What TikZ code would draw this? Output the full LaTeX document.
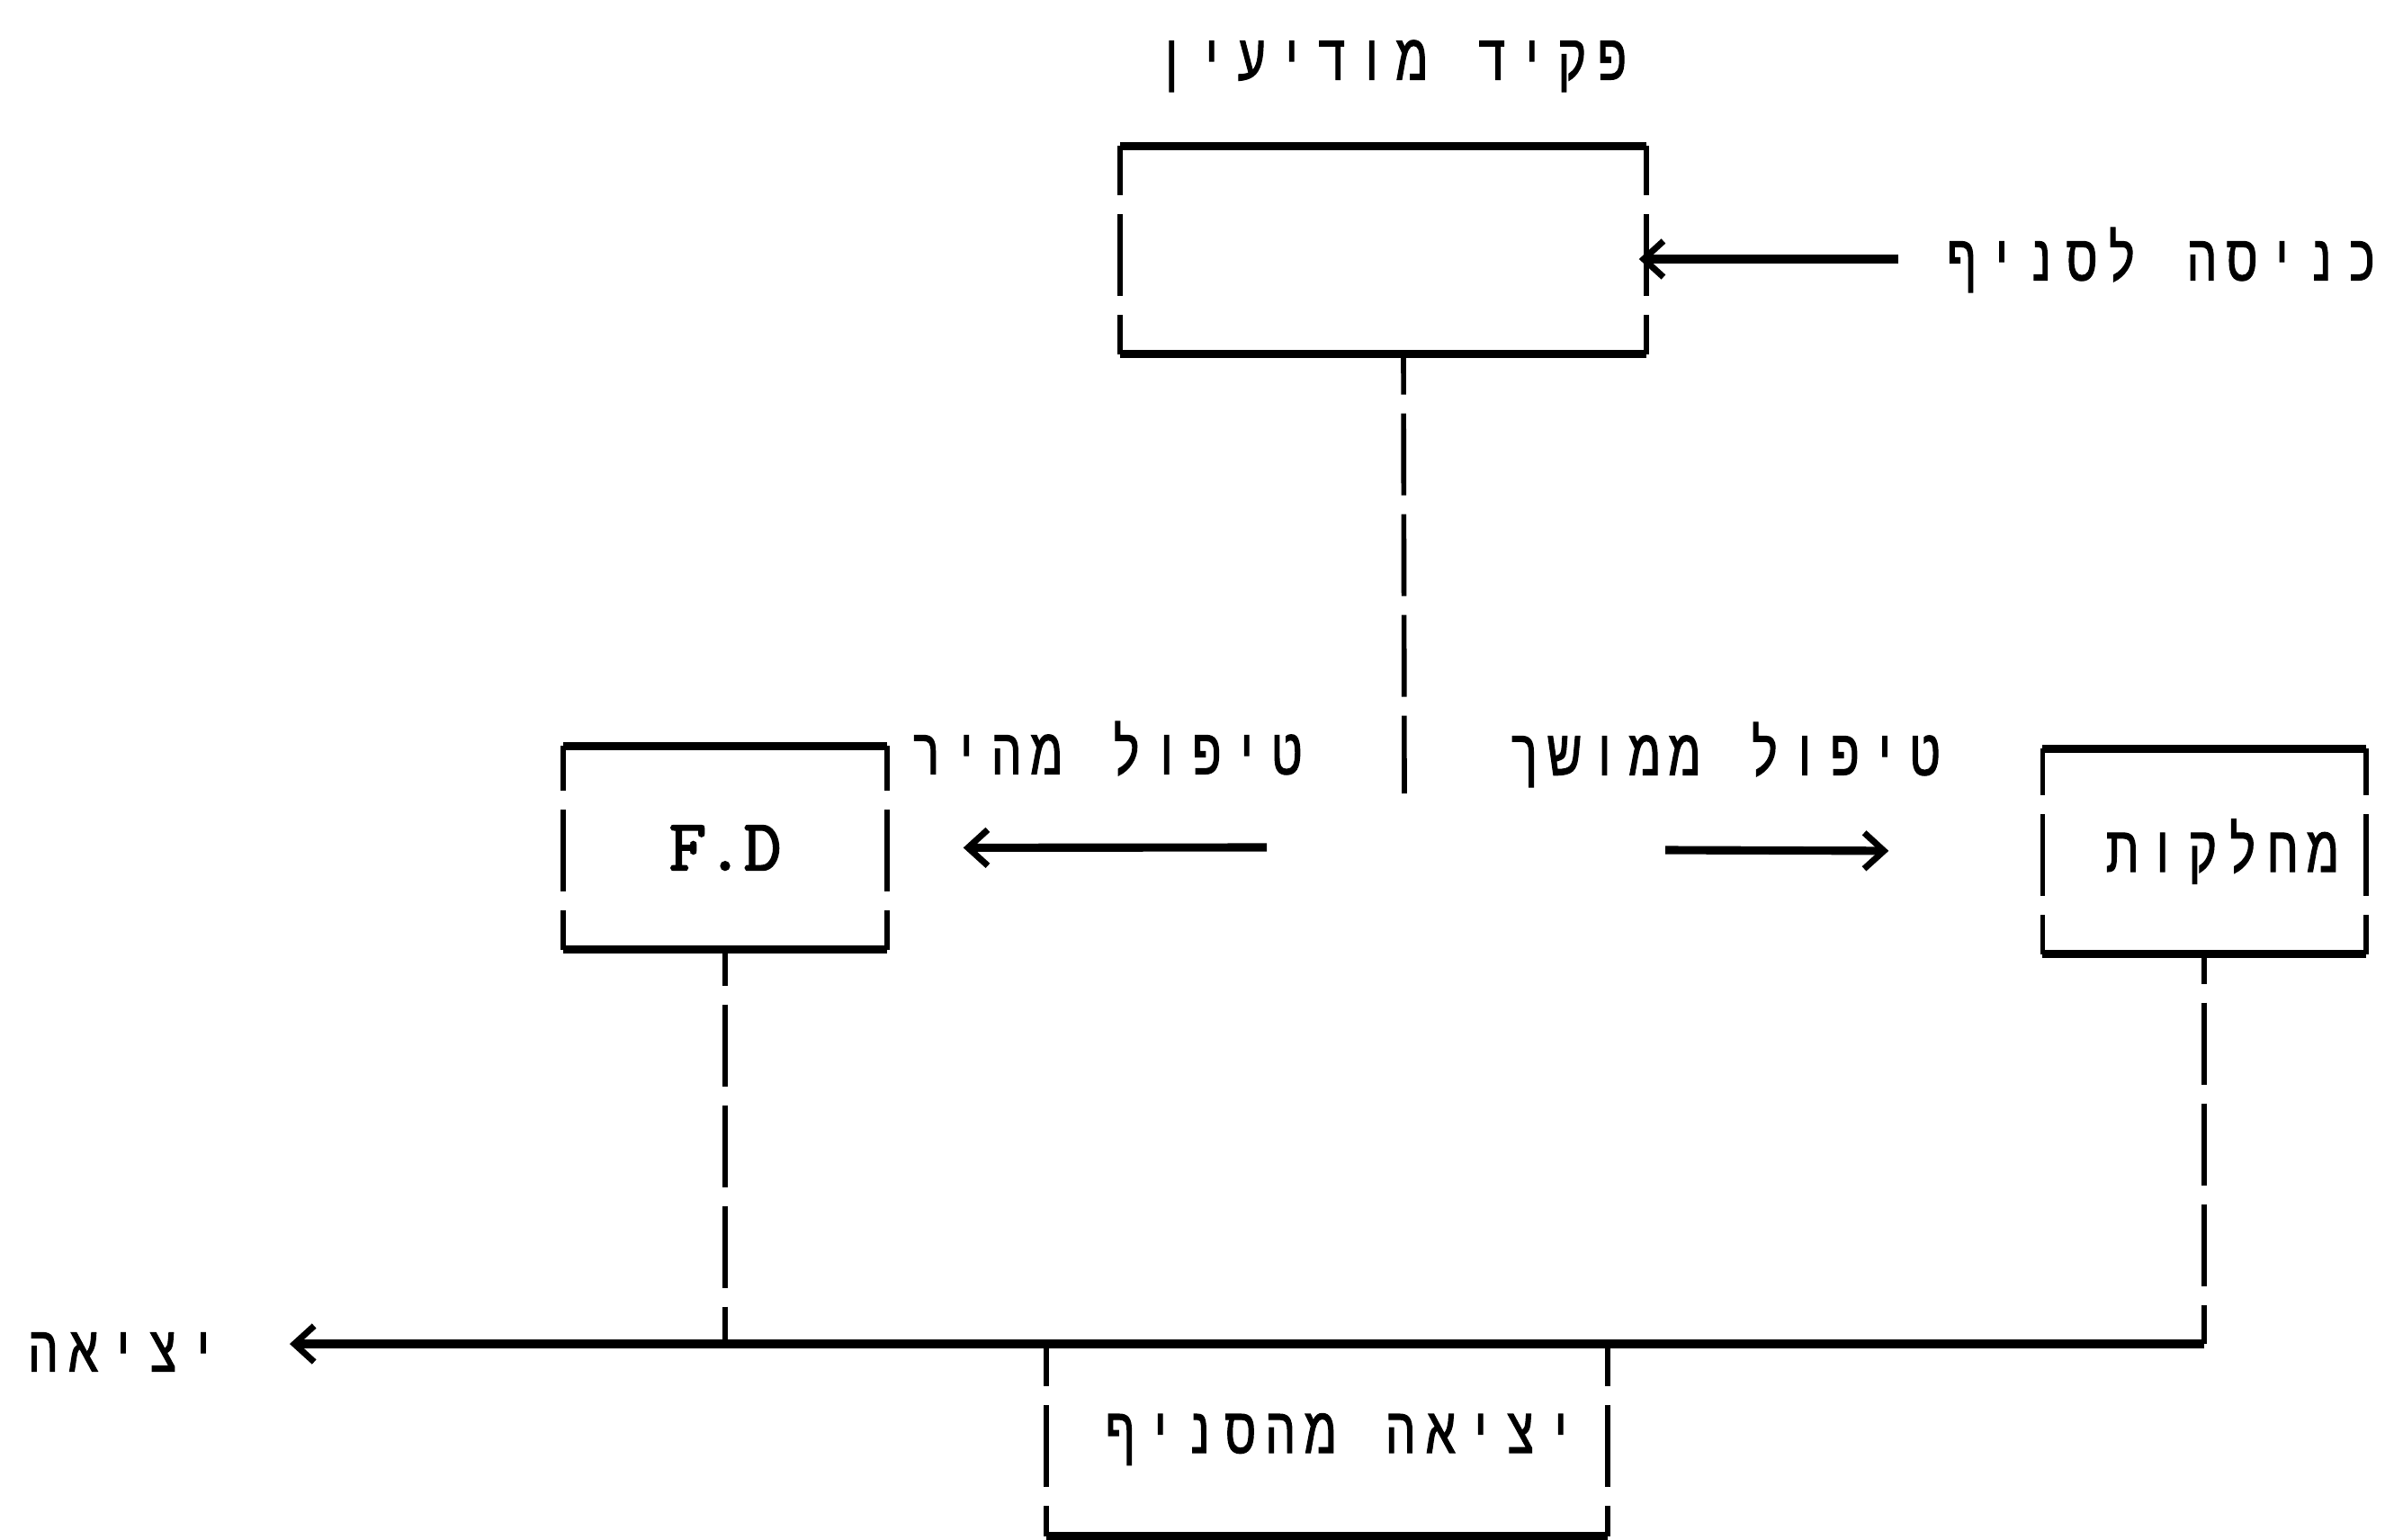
\documentclass[tikz,border=0pt]{standalone}
\usepackage{fontspec}
\usetikzlibrary{arrows.meta}
\TeXXeTstate=1
\newfontfamily\heb[Script=Hebrew,FakeStretch=0.74,FakeBold=1.5]{Liberation Sans}
\newfontfamily\fdfont[FakeBold=2.5]{Latin Modern Mono}
\newlength\twpitch \setlength\twpitch{0.445cm}
\makeatletter
\newcommand\tw[1]{\beginR\@tfor\tw@c:=#1\do{\hbox to \twpitch{\hss\tw@c\hss}}\endR}
\makeatother
\tikzset{
  hebfont/.style={font=\heb\fontsize{20.5pt}{22pt}\selectfont},
  hline/.style={line width=2.6pt},
  vdash/.style={line width=1.6pt, dash pattern=on 0.91cm off 0.21cm},
  arr/.style={hline, -{Straight Barb[length=0.22cm, width=0.4cm, line width=2pt, sep=0.06cm]}},
  lbl/.style={hebfont, inner sep=0pt, text height=0.47cm, text depth=0pt},
  boxn/.style={draw=none, inner sep=0pt}
}
\begin{document}
\begin{tikzpicture}
\useasboundingbox (0,0) rectangle (26.61,-17.11);
% title
\node[lbl] (title) at (15.47,-0.65) {\tw{פקיד~מודיעין}};
% top box
\node[boxn, minimum width=5.83cm, minimum height=2.30cm] (top) at (15.375,-2.78) {};
\draw[hline] (top.north west) -- (top.north east);
\draw[hline] (top.south west) -- (top.south east);
\draw[vdash, dash phase=0.36cm] (top.north west) -- (top.south west);
\draw[vdash, dash phase=0.36cm] (top.north east) -- (top.south east);
% entry
\node[lbl] (entry) at (24.03,-2.88) {\tw{כניסה~לסניף}};
\draw[arr, shorten >=0.34cm] ([xshift=-0.48cm]entry.west) -- ([xshift=-0.48cm]entry.west -| top.east);
% central connector
\coordinate (split) at (15.61,-8.82);
\draw[vdash, dash phase=0.46cm] ([xshift=0.225cm]top.south) -- (split);
% F.D box
\node[boxn, minimum width=3.58cm, minimum height=2.25cm, font=\fdfont\fontsize{23pt}{25pt}\selectfont] (fd) at (8.06,-9.425) {F.D};
\draw[hline] (fd.north west) -- (fd.north east);
\draw[hline] (fd.south west) -- (fd.south east);
\draw[vdash, dash phase=0.41cm] (fd.north west) -- (fd.south west);
\draw[vdash, dash phase=0.41cm] (fd.north east) -- (fd.south east);
% fast
\node[lbl] (fast) at (12.30,-8.37) {\tw{טיפול~מהיר}};
\coordinate (fdStart) at (14.08,-9.42);
\draw[arr, shorten >=0.79cm] (fdStart) -- (fd.east);
% dept box
\node[boxn, hebfont, minimum width=3.58cm, minimum height=2.27cm, text width=3.08cm, align=right, inner xsep=0.25cm] (dept) at (24.50,-9.465) {\tw{מחלקות}};
\draw[hline] (dept.north west) -- (dept.north east);
\draw[hline] (dept.south west) -- (dept.south east);
\draw[vdash, dash phase=0.39cm] (dept.north west) -- (dept.south west);
\draw[vdash, dash phase=0.39cm] (dept.north east) -- (dept.south east);
% slow
\node[lbl] (slow) at (19.17,-8.38) {\tw{טיפול~ממושך}};
\coordinate (dStart) at (18.51,-9.45);
\draw[arr, shorten >=1.65cm] (dStart) -- (dept.west);
% exit line
\coordinate (ybase) at (0,-14.94);
\coordinate (jR) at (dept.south |- ybase);
\draw[vdash, dash phase=0.58cm] (dept.south) -- (jR);
\draw[vdash, dash phase=0.51cm] (fd.south) -- (fd.south |- ybase);
\node[lbl] (exitl) at (1.37,-15.01) {\tw{יציאה}};
\draw[arr, shorten >=0.67cm] (jR) -- (exitl.east |- jR);
% bottom box
\node[boxn, hebfont, minimum width=6.22cm, minimum height=2.14cm, text width=5.64cm, align=right, inner xsep=0.29cm] (outbox) at (14.75,-16.00) {\tw{יציאה~מהסניף}};
\draw[vdash, dash phase=0.42cm] (outbox.north west) -- (outbox.south west);
\draw[vdash, dash phase=0.42cm] (outbox.north east) -- (outbox.south east);
\draw[hline] (outbox.south west) -- (outbox.south east);
\end{tikzpicture}
\end{document}
